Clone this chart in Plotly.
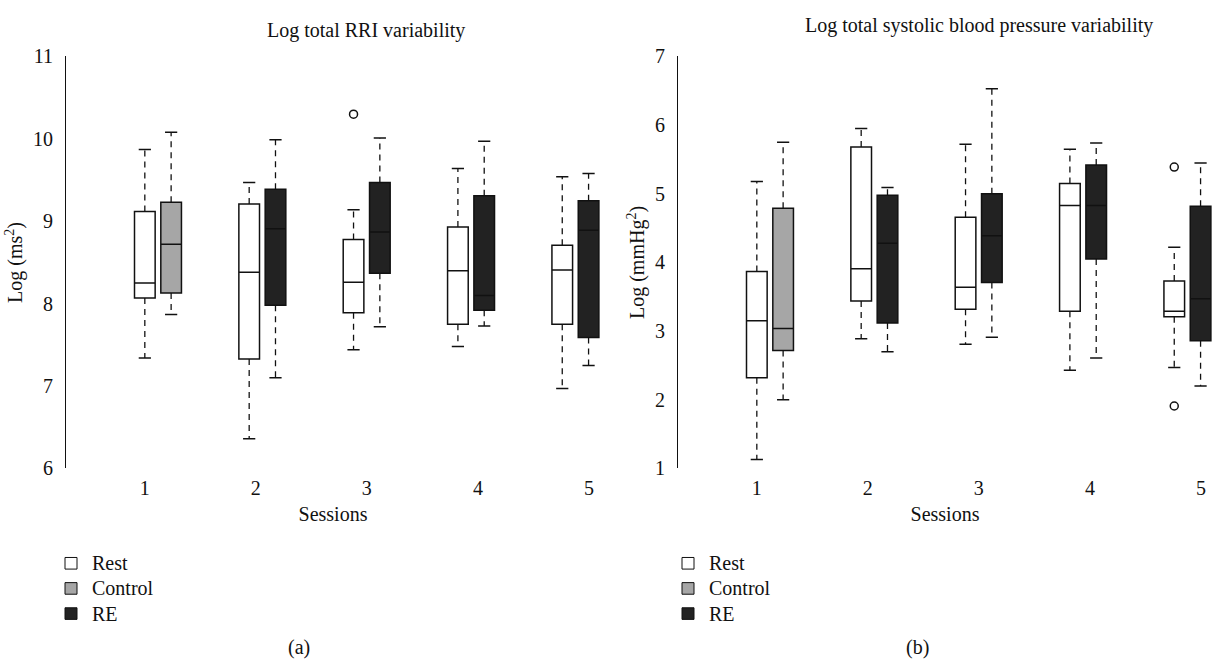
import plotly.graph_objects as go

W, H = 1212, 671
FONT = "Liberation Serif"
FS = 20

# ---------------- data ----------------
sessions = [1, 2, 3, 4, 5]
session_labels = ["1", "2", "3", "4", "5"]
active_group = ["Control", "RE", "RE", "RE", "RE"]   # second box in each session
group_colors = {"Rest": "#ffffff", "Control": "#a6a6a6", "RE": "#222222"}

# Panel (a): Log total RRI variability
rri_rest_low = [7.34, 6.36, 7.44, 7.48, 6.97]
rri_rest_q1 = [8.07, 7.33, 7.89, 7.75, 7.75]
rri_rest_med = [8.25, 8.38, 8.26, 8.40, 8.41]
rri_rest_q3 = [9.12, 9.21, 8.78, 8.93, 8.71]
rri_rest_high = [9.87, 9.47, 9.14, 9.64, 9.54]
rri_rest_out = [[], [], [10.30], [], []]

rri_act_low = [7.87, 7.10, 7.72, 7.73, 7.25]
rri_act_q1 = [8.13, 7.98, 8.37, 7.92, 7.59]
rri_act_med = [8.72, 8.91, 8.87, 8.10, 8.89]
rri_act_q3 = [9.23, 9.39, 9.47, 9.31, 9.25]
rri_act_high = [10.08, 9.99, 10.01, 9.97, 9.58]
rri_act_out = [[], [], [], [], []]

# Panel (b): Log total systolic blood pressure variability
sbp_rest_low = [1.13, 2.89, 2.81, 2.43, 2.47]
sbp_rest_q1 = [2.32, 3.44, 3.32, 3.29, 3.21]
sbp_rest_med = [3.15, 3.91, 3.64, 4.83, 3.29]
sbp_rest_q3 = [3.87, 5.68, 4.66, 5.15, 3.73]
sbp_rest_high = [5.18, 5.95, 5.72, 5.65, 4.22]
sbp_rest_out = [[7.11], [], [], [], [5.39, 1.91]]

sbp_act_low = [2.00, 2.70, 2.91, 2.61, 2.20]
sbp_act_q1 = [2.72, 3.12, 3.71, 4.05, 2.86]
sbp_act_med = [3.04, 4.28, 4.39, 4.83, 3.47]
sbp_act_q3 = [4.79, 4.98, 5.00, 5.42, 4.82]
sbp_act_high = [5.75, 5.09, 6.53, 5.74, 5.45]
sbp_act_out = [[], [], [], [], []]

# ---------------- geometry ----------------
def px_x(p):
    return p / W

def px_y(p):
    return 1 - p / H

X_RANGE = [0.29, 5.10]
STEP = 0.94        # spacing between session box pairs (axis units)
PAIR = 0.237       # offset of second box
BOX_W = 0.186
CAP_W = 0.055

def rest_pos(s):
    return 1 + (s - 1) * STEP

fig = go.Figure()

def add_panel(xa, ya, rest, act):
    xs_rest = [rest_pos(s) for s in sessions]
    xs_act = [rest_pos(s) + PAIR for s in sessions]
    sets = [("Rest", xs_rest, rest, list(range(5)))]
    for g in ["Control", "RE"]:
        idx = [i for i in range(5) if active_group[i] == g]
        sets.append((g, xs_act, act, idx))
    wx, wy, cx, cy, ox, oy = [], [], [], [], [], []
    for name, xs, st, idx in sets:
        low, q1, med, q3, high, out = st
        fig.add_trace(go.Box(
            x=[xs[i] for i in idx],
            q1=[q1[i] for i in idx], median=[med[i] for i in idx],
            q3=[q3[i] for i in idx],
            lowerfence=[q1[i] for i in idx], upperfence=[q3[i] for i in idx],
            width=BOX_W, whiskerwidth=0, boxpoints=False,
            fillcolor=group_colors[name], line=dict(color="#111111", width=1.5),
            name=name, showlegend=False, xaxis=xa, yaxis=ya))
        for i in idx:
            x = xs[i]
            wx += [x, x, None, x, x, None]
            wy += [q3[i], high[i], None, q1[i], low[i], None]
            cx += [x - CAP_W, x + CAP_W, None, x - CAP_W, x + CAP_W, None]
            cy += [high[i], high[i], None, low[i], low[i], None]
            for o in out[i]:
                ox.append(x)
                oy.append(o)
    fig.add_trace(go.Scatter(x=wx, y=wy, mode="lines", xaxis=xa, yaxis=ya,
                             line=dict(color="#111111", width=1.3, dash="6px,5px"),
                             showlegend=False, hoverinfo="skip"))
    fig.add_trace(go.Scatter(x=cx, y=cy, mode="lines", xaxis=xa, yaxis=ya,
                             line=dict(color="#111111", width=1.5),
                             showlegend=False, hoverinfo="skip"))
    fig.add_trace(go.Scatter(x=ox, y=oy, mode="markers", xaxis=xa, yaxis=ya,
                             marker=dict(symbol="circle-open", size=8,
                                         color="#111111", line=dict(width=1.5)),
                             cliponaxis=False, showlegend=False))

add_panel("x", "y",
          (rri_rest_low, rri_rest_q1, rri_rest_med, rri_rest_q3, rri_rest_high, rri_rest_out),
          (rri_act_low, rri_act_q1, rri_act_med, rri_act_q3, rri_act_high, rri_act_out))
add_panel("x2", "y2",
          (sbp_rest_low, sbp_rest_q1, sbp_rest_med, sbp_rest_q3, sbp_rest_high, sbp_rest_out),
          (sbp_act_low, sbp_act_q1, sbp_act_med, sbp_act_q3, sbp_act_high, sbp_act_out))

tickfont = dict(family=FONT, size=FS, color="#111111")

def xaxis_cfg(dom):
    return dict(domain=dom, range=X_RANGE, tickvals=sessions, ticktext=session_labels,
                showline=False, showgrid=False, zeroline=False, ticks="",
                tickfont=tickfont, ticklabelstandoff=6,
                title=dict(text="Sessions", font=tickfont, standoff=8))

def yaxis_cfg(rng, anchor, title):
    return dict(domain=[px_y(473), px_y(47)], range=rng, anchor=anchor,
                tickvals=list(range(int(rng[0]), int(rng[1]) + 1)),
                showline=True, linecolor="#111111", linewidth=1.2,
                showgrid=False, zeroline=False, ticks="", tickfont=tickfont,
                ticklabelstandoff=8,
                title=dict(text=title, font=tickfont, standoff=4))

fig.update_layout(
    width=W, height=H, margin=dict(l=0, r=0, t=0, b=0),
    paper_bgcolor="white", plot_bgcolor="white",
    xaxis=xaxis_cfg([px_x(66), px_x(600)]) | dict(anchor="y"),
    yaxis=yaxis_cfg([6, 11], "x", "Log (ms<sup>2</sup>)"),
    xaxis2=xaxis_cfg([px_x(678), px_x(1212)]) | dict(anchor="y2"),
    yaxis2=yaxis_cfg([1, 7], "x2", "Log (mmHg<sup>2</sup>)"),
    font=dict(family=FONT, size=FS, color="#111111"),
)

annos = [
    dict(text="Log total RRI variability", x=px_x(366), y=px_y(20)),
    dict(text="Log total systolic blood pressure variability", x=px_x(979), y=px_y(15)),
    dict(text="(a)", x=px_x(299), y=px_y(658)),
    dict(text="(b)", x=px_x(917), y=px_y(658)),
]
for a in annos:
    fig.add_annotation(xref="paper", yref="paper", showarrow=False,
                       xanchor="center", yanchor="middle",
                       font=dict(family=FONT, size=FS, color="#111111"), **a)

# legends (one under each panel)
legend_items = ["Rest", "Control", "RE"]
legend_rows = [571, 597, 623]
for x0 in [71, 688]:
    for name, yc in zip(legend_items, legend_rows):
        fig.add_shape(type="rect", xref="paper", yref="paper",
                      x0=px_x(x0 - 6), x1=px_x(x0 + 6), y0=px_y(yc + 6), y1=px_y(yc - 6),
                      fillcolor=group_colors[name], line=dict(color="#111111", width=1))
        fig.add_annotation(xref="paper", yref="paper", showarrow=False,
                           x=px_x(x0 + 19), y=px_y(yc), xanchor="left", yanchor="middle",
                           text=name, font=dict(family=FONT, size=FS, color="#111111"))

fig.write_html("out.html",
               config={"displayModeBar": False},
               post_script="document.body.style.margin='0px';document.body.style.overflow='hidden';")
